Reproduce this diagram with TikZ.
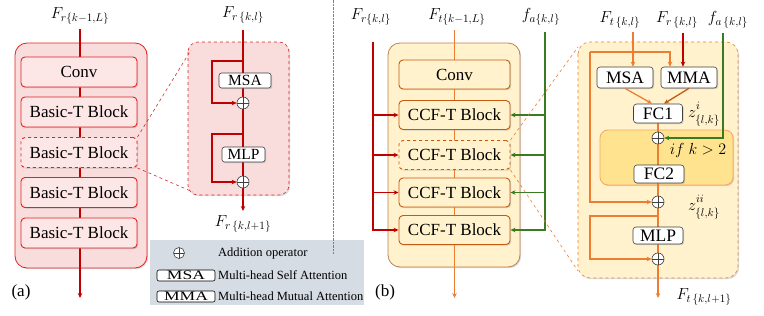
\RequirePackage{fix-cm}
\documentclass[tikz,border=0pt]{standalone}
\usepackage{fontspec}
\setmainfont{Liberation Serif}
\usepackage{graphicx}
\usetikzlibrary{arrows.meta,shadows,calc}
\pgfdeclarelayer{back}
\pgfdeclarelayer{mid}
\pgfsetlayers{back,mid,main}
\definecolor{redL}{HTML}{C00000}
\definecolor{redB}{HTML}{E02424}
\definecolor{pinkO}{HTML}{F9DCDC}
\definecolor{pinkB}{HTML}{FCE6E6}
\definecolor{orL}{HTML}{ED7D31}
\definecolor{orB}{HTML}{C55A11}
\definecolor{orO}{HTML}{C0804F}
\definecolor{yelO}{HTML}{FFF2CC}
\definecolor{yelI}{HTML}{FFE38F}
\definecolor{orI}{HTML}{F2A868}
\definecolor{grnL}{HTML}{3A7A22}
\definecolor{legG}{HTML}{D6DCE4}
\definecolor{divG}{HTML}{808080}
\definecolor{boxK}{HTML}{404040}
\newcommand{\fsz}[1]{\fontsize{#1}{#1}\selectfont}
\newcommand{\zlab}[1]{z^{\raisebox{2.5pt}{$\scriptstyle #1$}}_{\raisebox{-2pt}{$\scriptstyle\{l,k\}$}}}
\begin{document}
\begin{tikzpicture}[x=1pt,y=-1pt,
  >={Stealth[length=5pt,width=4.5pt]},
  shd/.style={drop shadow={shadow xshift=1.2pt,shadow yshift=-1.2pt,opacity=0.3}},
  outerA/.style={draw=redB, fill=pinkO, rounded corners=12pt, line width=0.8pt, shd},
  outerB/.style={draw=orO, fill=yelO, rounded corners=12pt, line width=0.8pt, shd},
  blockA/.style={draw=redB, fill=pinkB, rounded corners=4pt, line width=0.9pt, minimum width=116pt, minimum height=30pt, font=\fsz{17}, inner sep=0pt, shd},
  blockB/.style={draw=orB, fill=yelO, rounded corners=4pt, line width=0.9pt, minimum width=111pt, minimum height=29pt, font=\fsz{17}, inner sep=0pt, shd},
  wboxA/.style={draw=boxK, fill=white, rounded corners=2.5pt, line width=0.6pt, minimum height=15pt, inner sep=0pt, font=\fsz{15.5}, shd},
  wboxB/.style={draw=boxK, fill=white, rounded corners=3pt, line width=0.6pt, inner sep=0pt, font=\fsz{17.5}, shd},
  wboxL/.style={draw=black, fill=white, rounded corners=2pt, line width=0.6pt, inner sep=0pt, minimum width=58pt, minimum height=11pt, font=\fsz{13}},
  addop/.style={circle, draw=boxK, fill=white, line width=0.6pt, minimum size=12pt, inner sep=0pt,
    path picture={\draw[boxK, line width=0.6pt] (path picture bounding box.north) -- (path picture bounding box.south) (path picture bounding box.west) -- (path picture bounding box.east);}},
  lab/.style={font=\fsz{16}, inner sep=0pt},
  txt/.style={font=\fsz{12.5}, inner sep=0pt, anchor=west},
  lnR/.style={draw=redL, line width=1.3pt},
  lnO/.style={draw=orL, line width=1.3pt},
  lnG/.style={draw=grnL, line width=1.3pt},
]
\useasboundingbox (0,0) rectangle (764,316);

% ================= (a) =================
\begin{pgfonlayer}{back}
\draw[outerA] (15,43) rectangle (147,268);
\draw[draw=redB, dashed, fill=pinkO, rounded corners=10pt, line width=0.6pt, shd] (188,42) rectangle (289,195);
\end{pgfonlayer}
\node[lab] (aIn) at (80,16) {$F_{r\{k-1,L\}}$};
\coordinate (aTop) at (80,29);
\coordinate (aBot) at (80,298);
\node[blockA] (aConv) at (79,72) {Conv};
\node[blockA] (aB1) at (79,112) {Basic-T Block};
\node[blockA, dashed] (aB2) at (79,152.5) {Basic-T Block};
\node[blockA] (aB3) at (79,192.5) {Basic-T Block};
\node[blockA] (aB4) at (79,233) {Basic-T Block};
\node[font=\fsz{17}, inner sep=0pt] (aLab) at (21,292) {(a)};
\begin{pgfonlayer}{mid}
\draw[lnR,->] (aTop) -- (aBot);
\end{pgfonlayer}
% zoom connectors
\coordinate (aZt) at (191,50);
\coordinate (aZb) at (193,192);
\draw[redB, dashed, line width=0.6pt] (aB2.north east) -- (aZt);
\draw[redB, dashed, line width=0.6pt] (aB2.south east) -- (aZb);
% zoomed Basic-T block
\node[lab] (zaIn) at (243,15) {$F_{r\,\{k,l\}}$};
\node[lab] (zaOut) at (243,224) {$F_{r\,\{k,l+1\}}$};
\coordinate (zaTop) at (243,30);
\coordinate (zaEnd) at (243,211);
\node[wboxA, minimum width=52pt] (zaMSA) at (245,80.5) {MSA};
\node[addop] (zaAdd1) at (243,103) {};
\node[wboxA, minimum width=43pt] (zaMLP) at (243.5,154.5) {MLP};
\node[addop] (zaAdd2) at (243,182) {};
\coordinate (zaS1) at (243,61);
\coordinate (zaK1) at (212,61);
\coordinate (zaS2) at (243,134);
\coordinate (zaK2) at (212,134);
\begin{pgfonlayer}{mid}
\draw[lnR,->] (zaTop) -- (zaEnd);
\end{pgfonlayer}
\draw[lnR,->] (zaS1) -- (zaK1) |- (zaAdd1);
\draw[lnR,->] (zaS2) -- (zaK2) |- (zaAdd2);

% ================= legend =================
\fill[legG] (150,240) rectangle (364,305);
\node[addop, minimum size=11pt] (lgAdd) at (179,253) {};
\node[txt] (lgT1) at (218,253) {Addition operator};
\node[wboxL] (lgMSA) at (186,275.5) {\scalebox{1.35}[1]{MSA}};
\node[txt] (lgT2) at (218,275.5) {Multi-head Self Attention};
\node[wboxL] (lgMMA) at (186,296.5) {\scalebox{1.35}[1]{MMA}};
\node[txt] (lgT3) at (218,296.5) {Multi-head Mutual Attention};

% divider
\coordinate (dvT) at (333,0);
\coordinate (dvB) at (333,254);
\draw[divG, line width=0.7pt, dash pattern=on 2.5pt off 1pt] (dvT) -- (dvB);

% ================= (b) =================
\begin{pgfonlayer}{back}
\draw[outerB] (388,43) rectangle (520,267);
\draw[draw=orL, dashed, fill=yelO, rounded corners=12pt, line width=0.6pt, shd] (578,42) rectangle (738,278);
\draw[draw=orI, fill=yelI, rounded corners=8pt, line width=0.8pt, shd] (600,130) rectangle (733,185);
\end{pgfonlayer}
\node[lab] (bFr) at (371,17) {$F_{r\{k,l\}}$};
\node[lab] (bFt) at (457,17) {$F_{t\{k-1,L\}}$};
\node[lab] (bFa) at (541,17) {$f_{a\{k,l\}}$};
\coordinate (bTop) at (454.5,30);
\coordinate (bBot) at (454.5,298);
\node[blockB] (bConv) at (454.5,74.5) {Conv};
\node[blockB] (bB1) at (454.5,115) {CCF-T Block};
\node[blockB, dashed] (bB2) at (454.5,155) {CCF-T Block};
\node[blockB] (bB3) at (454.5,192.5) {CCF-T Block};
\node[blockB] (bB4) at (454.5,230) {CCF-T Block};
\node[font=\fsz{17}, inner sep=0pt] (bLab) at (385,292) {(b)};
\begin{pgfonlayer}{mid}
\draw[lnO,->] (bTop) -- (bBot);
\end{pgfonlayer}
\coordinate (bRtop) at (373,42);
\draw[lnR,->] (bRtop) |- (bB4);
\draw[lnR,->] (bRtop |- bB1) -- (bB1);
\draw[lnR,->] (bRtop |- bB2) -- (bB2);
\draw[lnR,->] (bRtop |- bB3) -- (bB3);
\coordinate (bGtop) at (545,32);
\draw[lnG,->] (bGtop) |- (bB4);
\draw[lnG,->] (bGtop |- bB1) -- (bB1);
\draw[lnG,->] (bGtop |- bB2) -- (bB2);
\draw[lnG,->] (bGtop |- bB3) -- (bB3);
% zoom connectors
\coordinate (zbT) at (578,47);
\coordinate (zbB) at (578,271);
\draw[orL, dashed, line width=0.6pt] (bB2.north east) -- (zbT);
\draw[orL, dashed, line width=0.6pt] (bB2.south east) -- (zbB);
% zoomed CCF-T block
\node[lab] (zbFt) at (620,20) {$F_{t\,\{k,l\}}$};
\node[lab] (zbFr) at (677,20) {$F_{r\,\{k,l\}}$};
\node[lab] (zbFa) at (728,20) {$f_{a\,\{k,l\}}$};
\node[wboxB, minimum width=56pt, minimum height=21pt] (zbMSA) at (625,77.5) {MSA};
\node[wboxB, minimum width=56pt, minimum height=21pt] (zbMMA) at (689,77.5) {MMA};
\node[wboxB, minimum width=49pt, minimum height=19pt] (zbFC1) at (658,113.5) {FC1};
\node[addop] (zbAdd1) at (658,138) {};
\node[wboxB, minimum width=50pt, minimum height=18pt] (zbFC2) at (659,174) {FC2};
\node[addop] (zbAdd2) at (658,202) {};
\node[wboxB, minimum width=50pt, minimum height=17pt] (zbMLP) at (658,235.5) {MLP};
\node[addop] (zbAdd3) at (658,259) {};
\node[lab] (zbZ1) at (704,114) {$\zlab{i}$};
\node[lab] (zbIf) at (698,150) {$if\ k>2$};
\node[lab] (zbZ2) at (704,207) {$\zlab{ii}$};
\node[lab] (zbOutL) at (704,297) {$F_{t\,\{k,l+1\}}$};
\coordinate (zbFtTop) at (633,32);
\coordinate (zbL) at (590,52);
\coordinate (zbR) at (670,52);
\coordinate (zbFrTop) at (683,33);
\coordinate (zbFaTop) at (723,33);
\coordinate (zbOut) at (658,298);
\coordinate (zbS2) at (658,216);
\coordinate (zbK2) at (590,216);
\begin{pgfonlayer}{mid}
\draw[lnO,->] (zbFC1.south) -- (zbOut);
\end{pgfonlayer}
\draw[lnO,->] (zbFtTop) -- (zbFtTop |- zbMSA.north);
\draw[lnO,->] (zbL) -- (zbR) -- (zbR |- zbMMA.north);
\draw[lnO,->] (zbL) |- (zbAdd2);
\draw[lnR,->] (zbFrTop) -- (zbFrTop |- zbMMA.north);
\draw[lnO,->] (zbMSA.south) -- ($(zbFC1.north)+(-6,0)$);
\draw[draw=orB, line width=1.3pt,->] (zbMMA.south) -- ($(zbFC1.north)+(6,0)$);
\draw[lnG,->] (zbFaTop) |- (zbAdd1);
\draw[lnO,->] (zbS2) -- (zbK2) |- (zbAdd3);
\end{tikzpicture}
\end{document}
